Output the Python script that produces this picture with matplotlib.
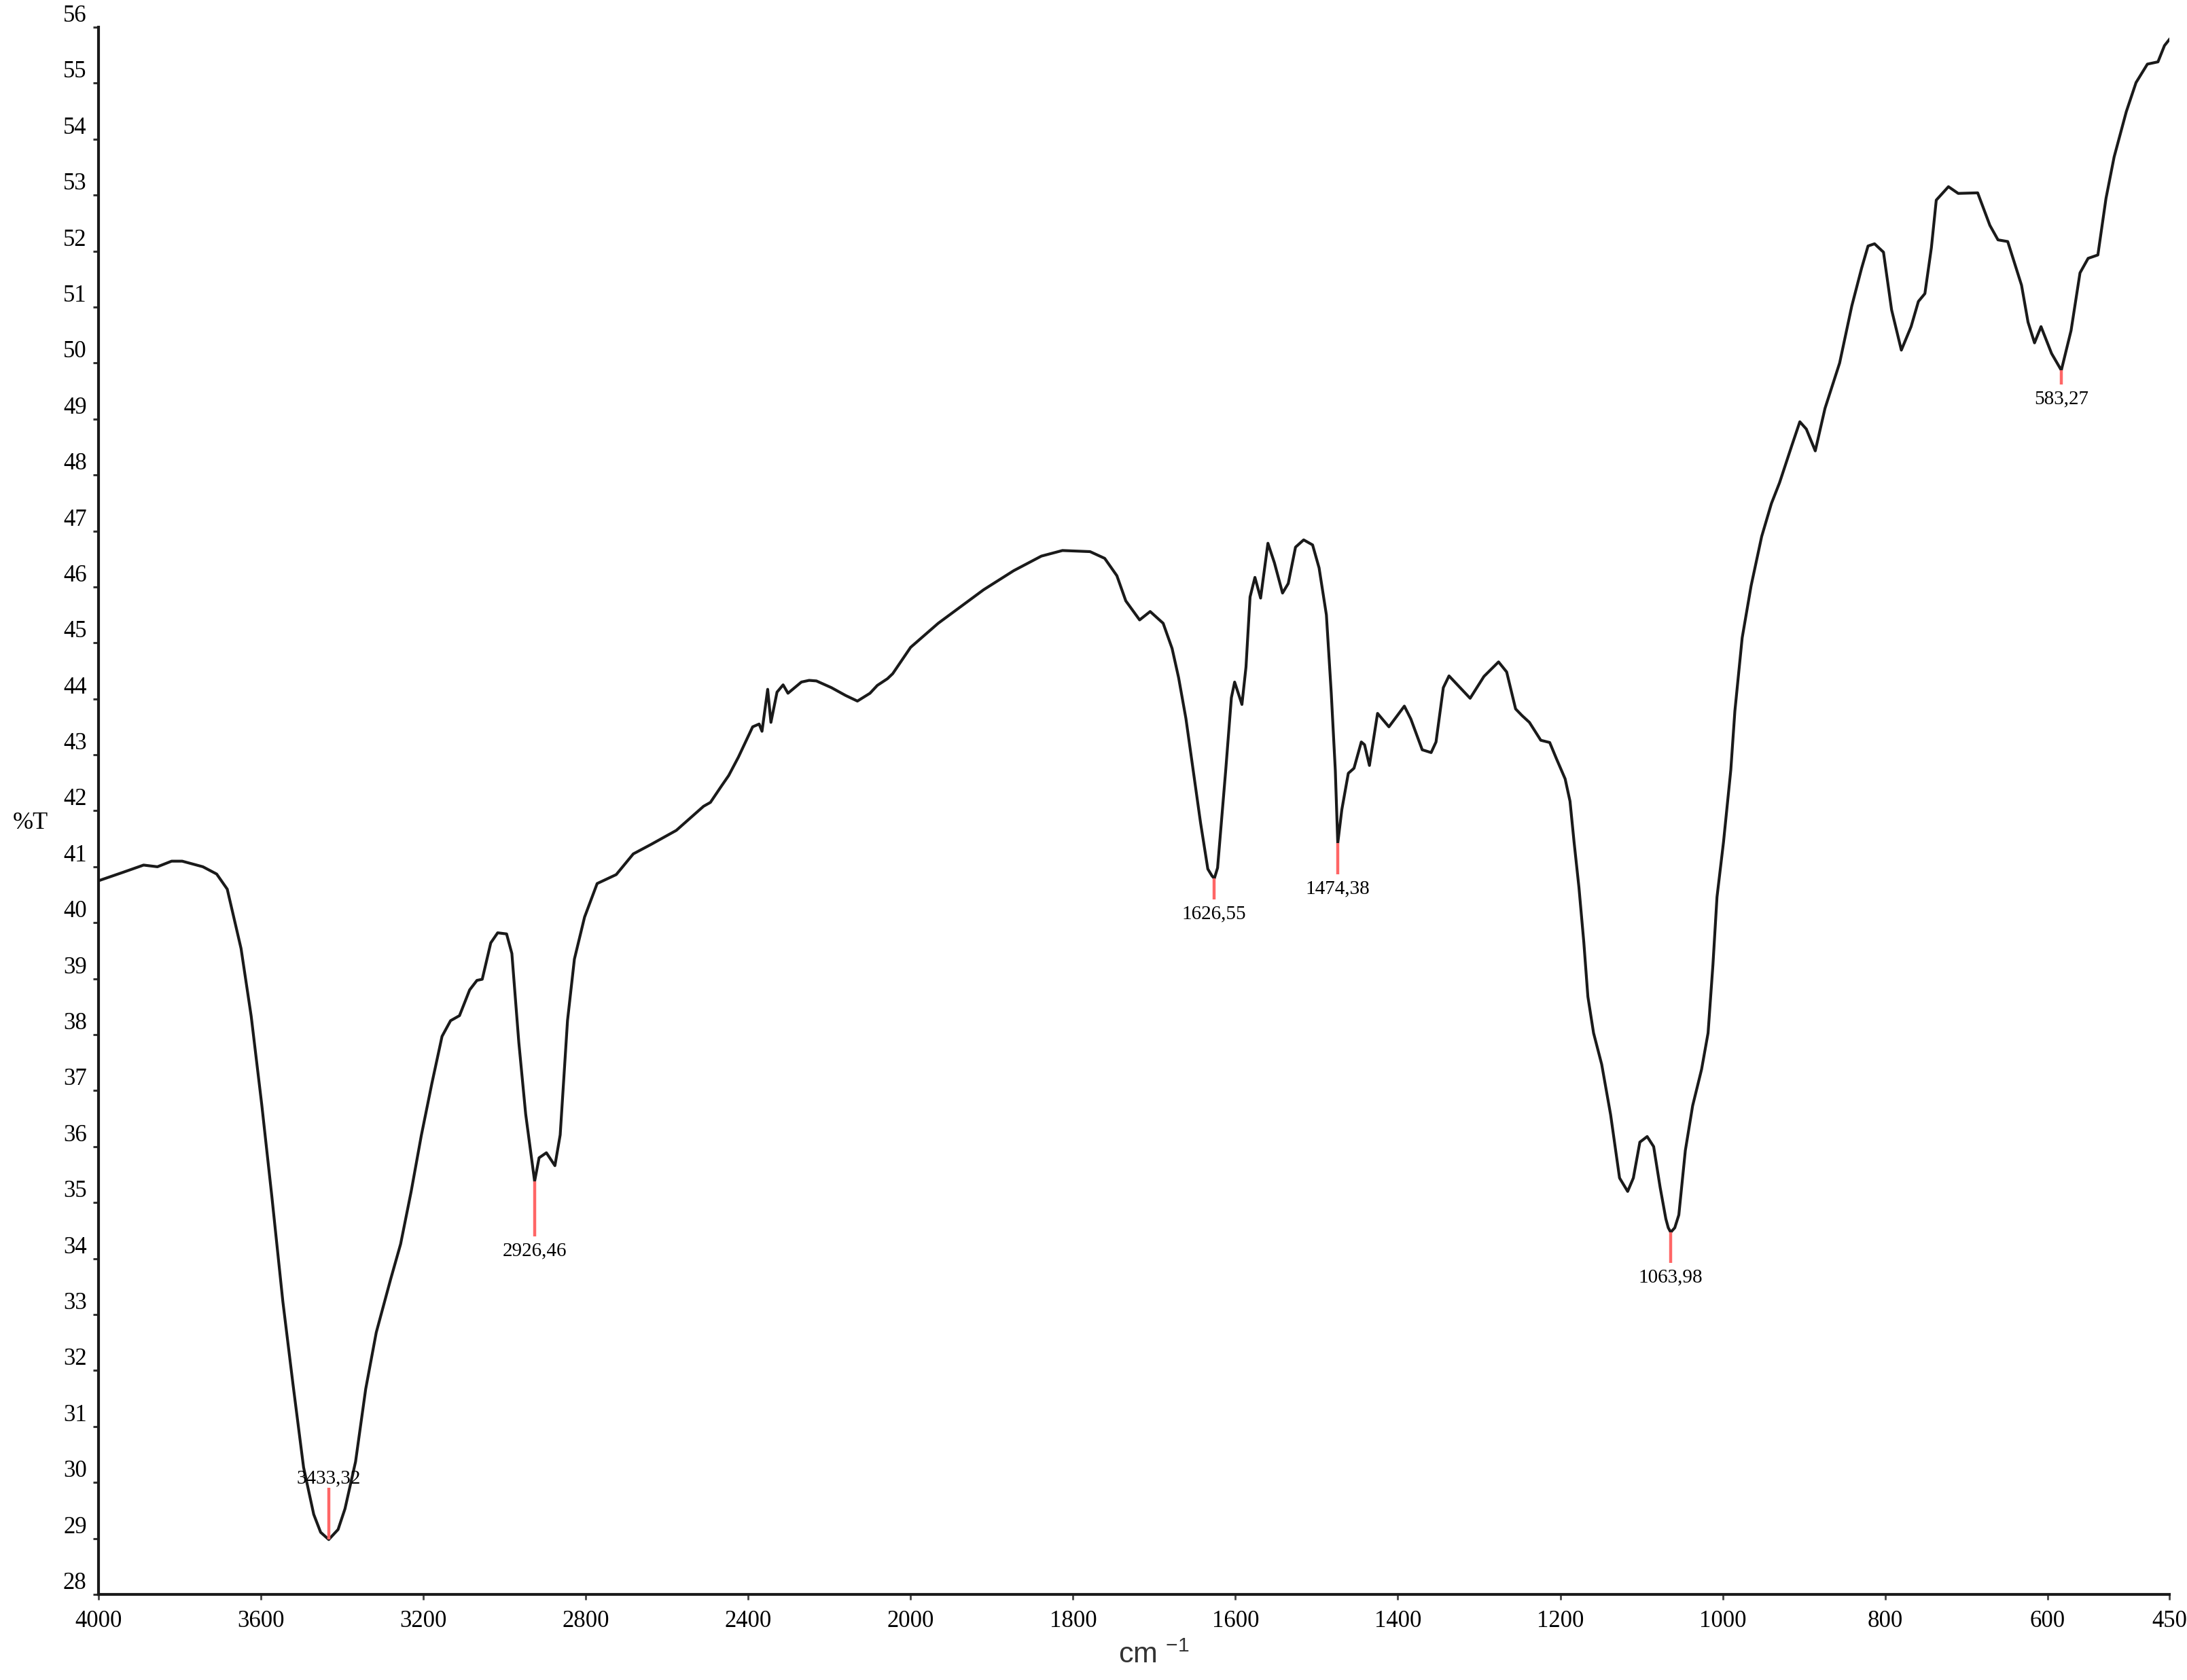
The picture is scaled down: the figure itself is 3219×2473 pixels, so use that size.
import numpy as np
import matplotlib
matplotlib.use("Agg")
import matplotlib.pyplot as plt

# FTIR spectrum (wavenumber in cm-1, transmittance in %)
wavenumber = [
    4000, 3940, 3889, 3855, 3820, 3794, 3743, 3709, 3683, 3649,
    3624, 3598, 3573, 3546, 3521, 3495, 3470, 3453, 3433, 3410,
    3393, 3367,
    3342, 3316, 3281, 3256, 3230, 3205, 3179, 3154, 3133, 3111,
    3086, 3068, 3055, 3034, 3017, 2995, 2982, 2965, 2948, 2926,
    2915, 2897, 2876, 2863, 2845, 2828, 2803, 2772, 2725, 2683,
    2639, 2577, 2510, 2493, 2467, 2448, 2424, 2389, 2373, 2366,
    2352, 2344, 2329, 2314, 2302, 2269, 2250, 2232, 2195, 2160,
    2131, 2100, 2082, 2057, 2044, 2000, 1966, 1910, 1873, 1839,
    1813, 1779, 1761, 1746, 1735, 1718, 1705, 1689, 1678, 1670,
    1661, 1652, 1643, 1634, 1629, 1626, 1622, 1612, 1605, 1601, 1592,
    1587, 1582, 1576, 1569, 1560, 1552, 1542, 1535, 1526, 1516,
    1505, 1497, 1488, 1482, 1477, 1474, 1469, 1461, 1454, 1445,
    1441, 1435, 1425, 1411, 1392, 1384, 1370, 1359, 1353, 1344,
    1337, 1326, 1311, 1294, 1276, 1266, 1255, 1247, 1238, 1224,
    1213, 1205, 1194, 1188, 1183, 1177, 1171, 1166, 1159, 1149,
    1138, 1127, 1117, 1110, 1102, 1093, 1085, 1077, 1070, 1067, 1064,
    1059, 1054, 1046, 1037, 1026, 1018, 1012, 1007, 999, 990, 985,
    976, 965, 952, 940, 930, 915, 905, 897, 886, 874,
    856, 841, 829, 821, 813, 802, 792, 780, 768, 759,
    751, 743, 737, 722, 710, 686, 671, 661, 649, 632,
    624, 616, 608, 595, 583, 571, 560, 550, 538, 528,
    518, 503, 491, 477, 464, 456, 450,
]
transmittance = [
    40.75, 40.90, 41.03, 41.00, 41.10, 41.10, 41.00, 40.87, 40.60, 39.54,
    38.33, 36.75, 35.10, 33.23, 31.75, 30.27, 29.43, 29.11, 28.98, 29.16,
    29.53, 30.37,
    31.67, 32.68, 33.62, 34.26, 35.20, 36.20, 37.13, 37.97, 38.25, 38.34,
    38.80, 38.97, 38.99, 39.64, 39.82, 39.80, 39.45, 37.87, 36.58, 35.38,
    35.80, 35.89, 35.66, 36.21, 38.25, 39.35, 40.10, 40.70, 40.86, 41.23,
    41.40, 41.65, 42.08, 42.15, 42.43, 42.63, 42.96, 43.50, 43.55, 43.42,
    44.17, 43.58, 44.12, 44.25, 44.10, 44.30, 44.33, 44.32, 44.20, 44.06,
    43.96, 44.10, 44.24, 44.36, 44.45, 44.92, 45.35, 45.95, 46.29, 46.55,
    46.65, 46.63, 46.51, 46.20, 45.75, 45.41, 45.56, 45.35, 44.90, 44.38,
    43.65, 42.72, 41.79, 40.96, 40.84, 40.79, 40.98, 42.72, 44.02, 44.30, 43.90,
    44.57, 45.82, 46.17, 45.80, 46.78, 46.43, 45.89, 46.06, 46.71, 46.84,
    46.75, 46.34, 45.50, 44.10, 42.72, 41.42, 42.02, 42.67, 42.76, 43.23,
    43.18, 42.81, 43.74, 43.50, 43.87, 43.64, 43.09, 43.04, 43.23, 44.20,
    44.41, 44.24, 44.01, 44.40, 44.66, 44.48, 43.82, 43.70, 43.58, 43.26,
    43.22, 42.94, 42.57, 42.17, 41.44, 40.63, 39.65, 38.68, 38.03, 37.47,
    36.57, 35.44, 35.20, 35.44, 36.08, 36.18, 36.00, 35.27, 34.71, 34.55, 34.47,
    34.55, 34.78, 35.93, 36.73, 37.38, 38.03, 39.25, 40.46, 41.44, 42.73, 43.78,
    45.09, 46.02, 46.90, 47.49, 47.86, 48.52, 48.95, 48.82, 48.43, 49.19,
    50.00, 51.02, 51.69, 52.09, 52.13, 51.98, 50.95, 50.23, 50.65, 51.10,
    51.24, 52.06, 52.91, 53.15, 53.03, 53.04, 52.46, 52.20, 52.17, 51.39,
    50.73, 50.36, 50.65, 50.17, 49.87, 50.58, 51.61, 51.87, 51.93, 52.94,
    53.68, 54.49, 55.01, 55.34, 55.38, 55.67, 55.78,
]

# picked peaks
peak_wn = [3433.32, 2926.46, 1626.55, 1474.38, 1063.98, 583.27]
peak_labels = ["3433,32", "2926,46", "1626,55", "1474,38", "1063,98", "583,27"]
peak_t = [28.98, 35.38, 40.79, 41.42, 34.47, 49.87]
peak_end = [29.90, 34.40, 40.42, 40.87, 33.92, 49.62]

x_ticks = [4000, 3600, 3200, 2800, 2400, 2000, 1800, 1600, 1400, 1200, 1000, 800, 600, 450]
y_ticks = list(range(28, 57))


# spectrometer style axis: 4000-2000 drawn at half the scale of 2000-450
def forward(w):
    w = np.asarray(w, dtype=float)
    return np.where(w > 2000, 2000 + (w - 2000) * 0.5, w)


def inverse(u):
    u = np.asarray(u, dtype=float)
    return np.where(u > 2000, 2000 + (u - 2000) * 2.0, u)


plt.rcParams["mathtext.fontset"] = "custom"
plt.rcParams["mathtext.rm"] = "Liberation Sans"
plt.rcParams["mathtext.it"] = "Liberation Sans:italic"
plt.rcParams["mathtext.bf"] = "Liberation Sans:bold"

fig = plt.figure(figsize=(32.19, 24.73), dpi=100)
ax = fig.add_axes([0.04505, 0.05095, 0.94687, 0.93288])

ax.set_xscale("function", functions=(forward, inverse))
ax.plot(wavenumber, transmittance, color="#1a1a1a", lw=3, solid_joinstyle="round")

for w, t, end, lab in zip(peak_wn, peak_t, peak_end, peak_labels):
    ax.plot([w, w], [t, end], color="#ff6666", lw=3.2, solid_capstyle="butt")
    if end > t:
        ax.annotate(lab, (w, end), xytext=(0, 1), textcoords="offset points",
                    ha="center", va="bottom", family="Liberation Serif", fontsize=21)
    else:
        ax.annotate(lab, (w, end), xytext=(0, -6), textcoords="offset points",
                    ha="center", va="top", family="Liberation Serif", fontsize=21)

ax.set_xlim(4000, 450)
ax.set_ylim(28, 56)
ax.set_xticks(x_ticks)
ax.set_xticklabels([str(v) for v in x_ticks])
ax.set_yticks(y_ticks)
ax.set_yticklabels([str(v) for v in y_ticks])
ax.minorticks_off()

for side in ["top", "right"]:
    ax.spines[side].set_visible(False)
for side in ["left", "bottom"]:
    ax.spines[side].set_linewidth(3)
    ax.spines[side].set_color("#1a1a1a")

ax.tick_params(axis="x", length=5.5, width=2, color="#444444", pad=11, labelsize=25)
ax.tick_params(axis="y", length=5.5, width=2.2, color="#333333", pad=7, labelsize=25)
for lab in ax.get_xticklabels() + ax.get_yticklabels():
    lab.set_fontfamily("Liberation Serif")
for lab in ax.get_yticklabels():
    lab.set_verticalalignment("bottom")

fig.text(45 / 3219, 1 - 1211 / 2473, "%T", ha="center", va="center",
         family="Liberation Serif", fontsize=26)
fig.text(0.5275, 0.0146, "cm $^{-1}$", ha="center", va="center",
         family="Liberation Sans", fontsize=31, color="#333333")

fig.savefig("out.png", dpi=100)
